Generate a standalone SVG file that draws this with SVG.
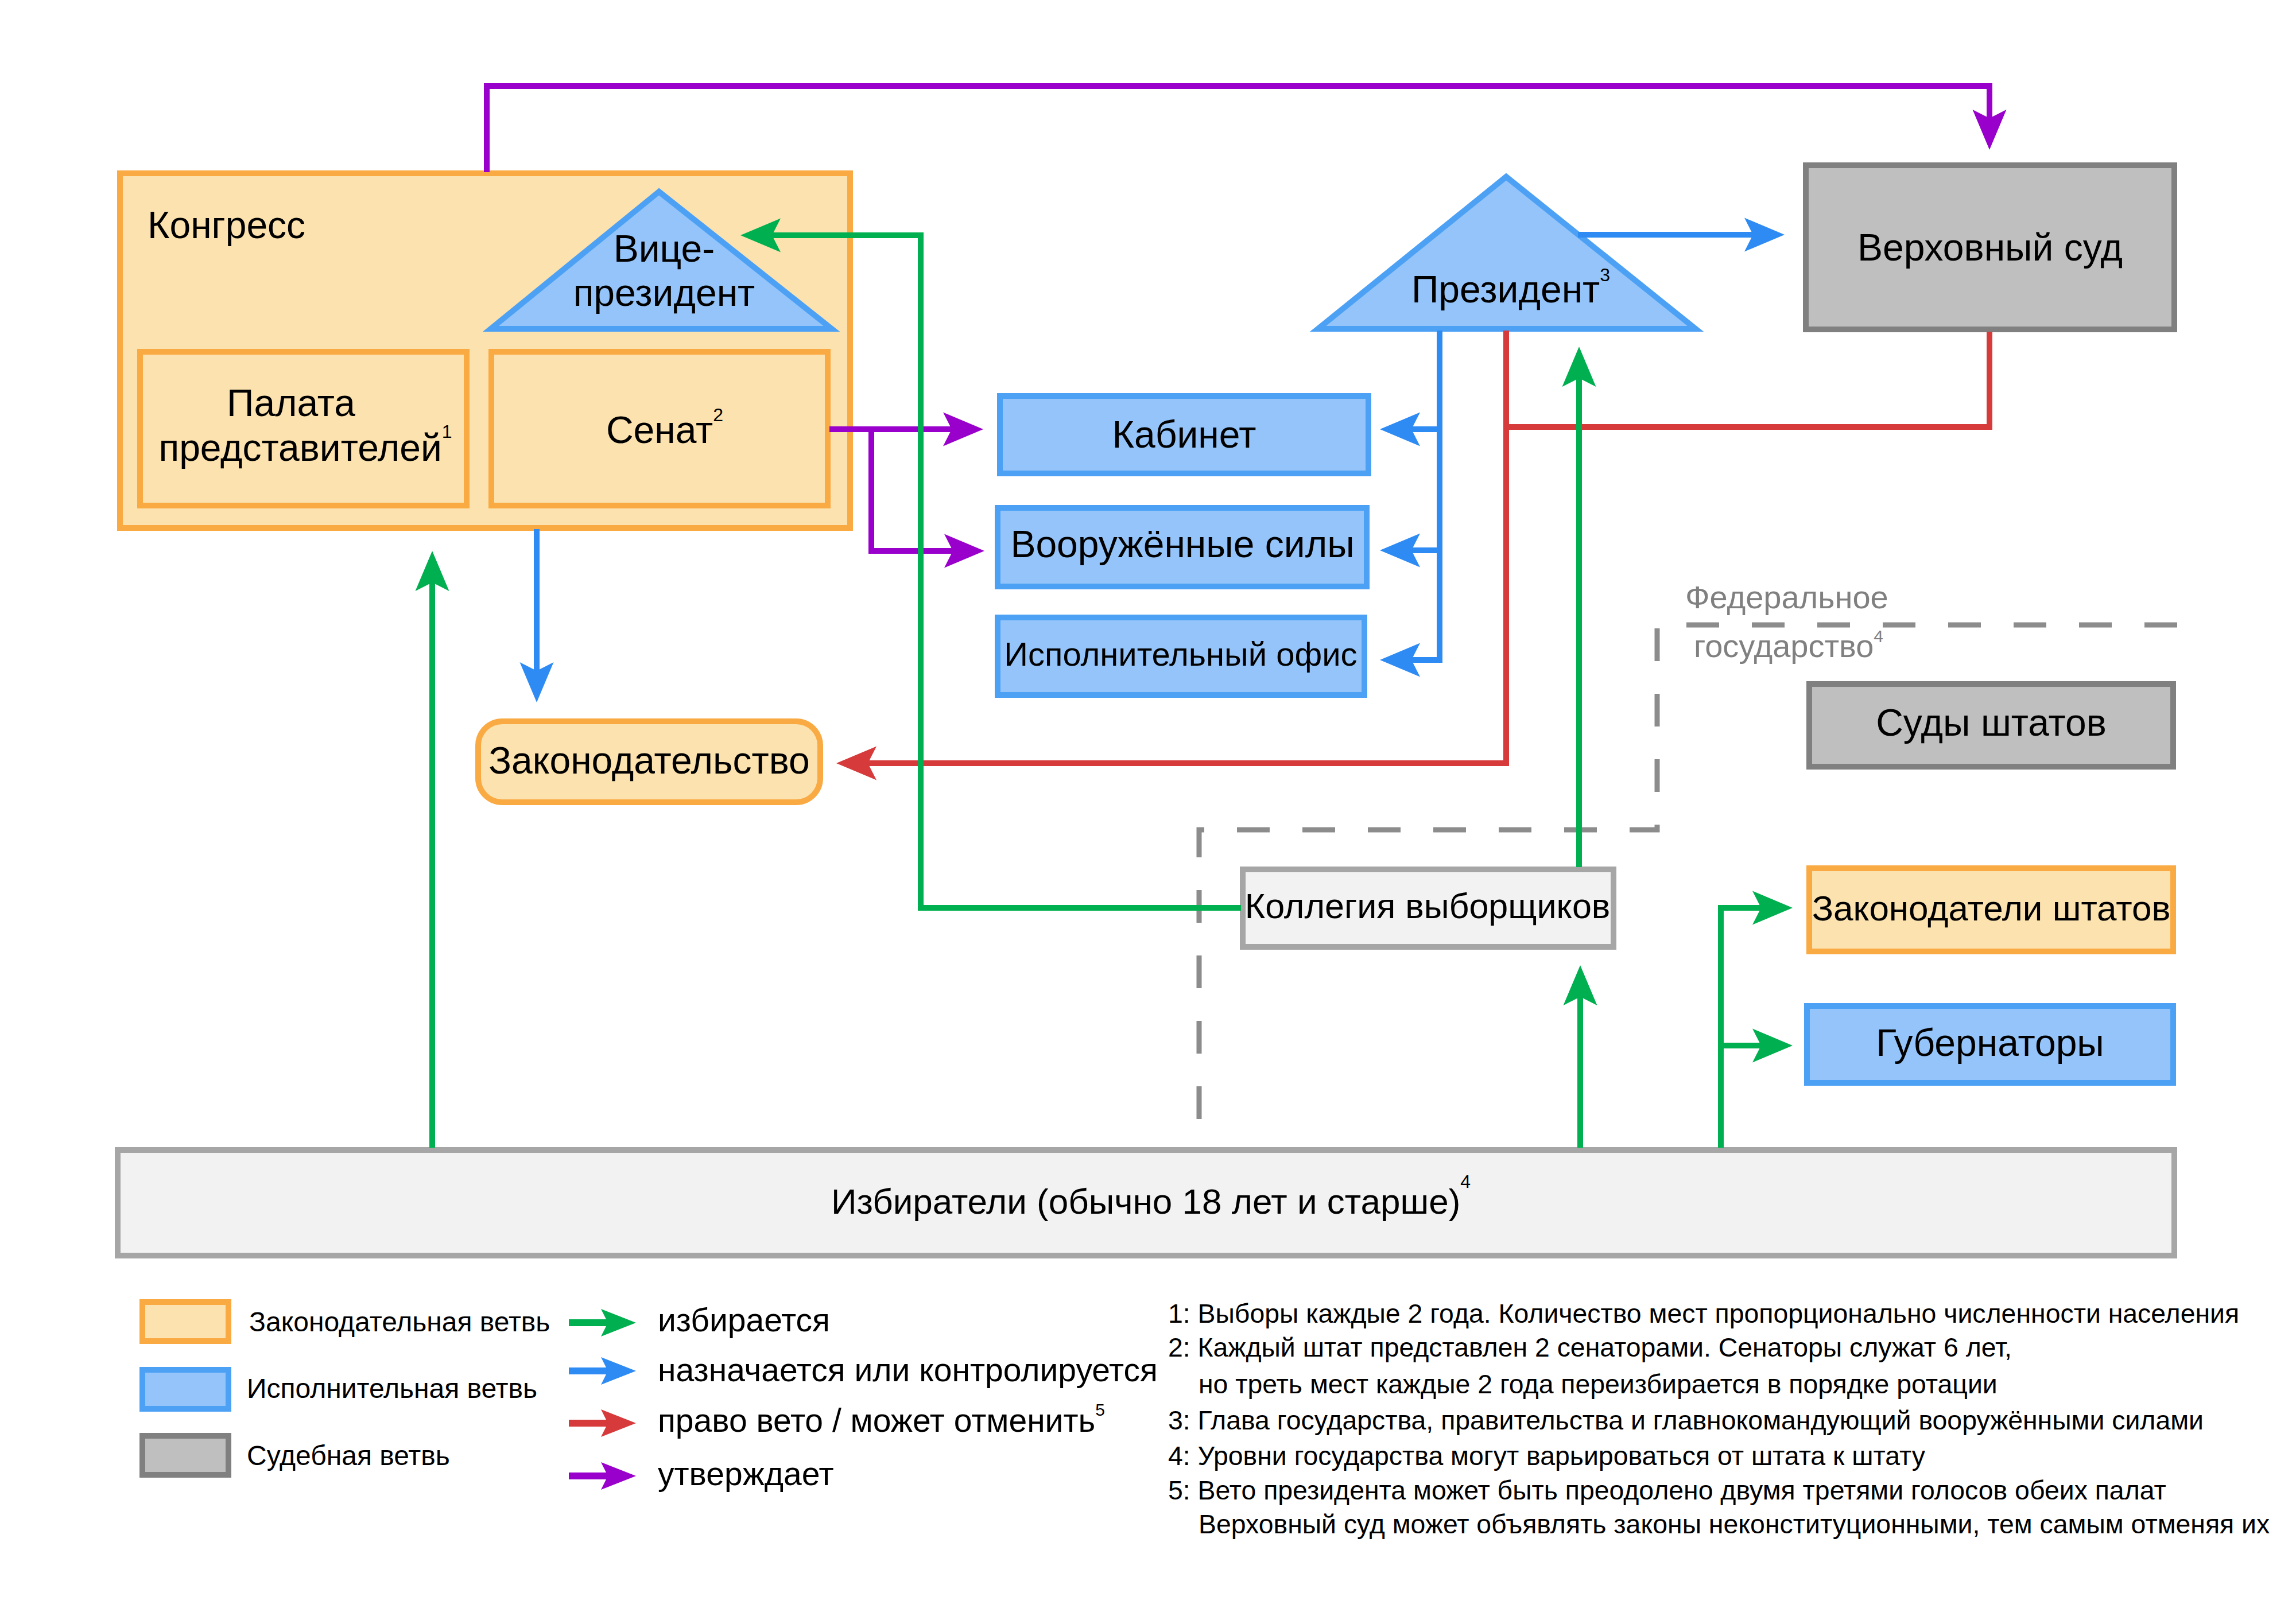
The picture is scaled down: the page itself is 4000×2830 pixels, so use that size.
<svg xmlns="http://www.w3.org/2000/svg" width="4000" height="2830" viewBox="0 0 4000 2830">
<style>
text{font-family:"Liberation Sans",Arial,sans-serif;fill:#000}
.f64{font-size:66px}
.f60{font-size:62px}
.f61{font-size:61px}
.f58{font-size:58px}
.f56{font-size:57px}
.f48{font-size:48px}
.f46{font-size:46.4px}
.sup{font-size:32px}
.leg{fill:#FCE2AE;stroke:#FAAA43;stroke-width:10}
.exe{fill:#94C4F9;stroke:#4DA1F5;stroke-width:10}
.jud{fill:#BFBFBF;stroke:#808080;stroke-width:10}
.pub{fill:#F2F2F2;stroke:#A6A6A6;stroke-width:10}
.c{fill:none;stroke-width:10}
.g{stroke:#00B050}.b{stroke:#2D8BF3}.r{stroke:#D63A3A}.p{stroke:#9900CC}
.lg{fill:none;stroke-width:12}
.fed{fill:none;stroke:#8C8C8C;stroke-width:9;stroke-dasharray:57 57}
.gray{fill:#808080;font-size:56px}
</style>
<defs>
<marker id="mg" viewBox="-16 -30 72 60" refX="0" refY="0" markerWidth="72" markerHeight="60" markerUnits="userSpaceOnUse" orient="auto"><path d="M55,0 L-15,-29.5 L0,0 L-15,29.5 Z" fill="#00B050"/></marker>
<marker id="mb" viewBox="-16 -30 72 60" refX="0" refY="0" markerWidth="72" markerHeight="60" markerUnits="userSpaceOnUse" orient="auto"><path d="M55,0 L-15,-29.5 L0,0 L-15,29.5 Z" fill="#2D8BF3"/></marker>
<marker id="mr" viewBox="-16 -30 72 60" refX="0" refY="0" markerWidth="72" markerHeight="60" markerUnits="userSpaceOnUse" orient="auto"><path d="M55,0 L-15,-29.5 L0,0 L-15,29.5 Z" fill="#D63A3A"/></marker>
<marker id="mp" viewBox="-16 -30 72 60" refX="0" refY="0" markerWidth="72" markerHeight="60" markerUnits="userSpaceOnUse" orient="auto"><path d="M55,0 L-15,-29.5 L0,0 L-15,29.5 Z" fill="#9900CC"/></marker>
<marker id="lg" viewBox="-13 -25 64 50" refX="0" refY="0" markerWidth="64" markerHeight="50" markerUnits="userSpaceOnUse" orient="auto"><path d="M49,0 L-12,-24 L0,0 L-12,24 Z" fill="#00B050"/></marker>
<marker id="lb" viewBox="-13 -25 64 50" refX="0" refY="0" markerWidth="64" markerHeight="50" markerUnits="userSpaceOnUse" orient="auto"><path d="M49,0 L-12,-24 L0,0 L-12,24 Z" fill="#2D8BF3"/></marker>
<marker id="lr" viewBox="-13 -25 64 50" refX="0" refY="0" markerWidth="64" markerHeight="50" markerUnits="userSpaceOnUse" orient="auto"><path d="M49,0 L-12,-24 L0,0 L-12,24 Z" fill="#D63A3A"/></marker>
<marker id="lp" viewBox="-13 -25 64 50" refX="0" refY="0" markerWidth="64" markerHeight="50" markerUnits="userSpaceOnUse" orient="auto"><path d="M49,0 L-12,-24 L0,0 L-12,24 Z" fill="#9900CC"/></marker>
</defs>
<rect width="4000" height="2830" fill="#FFFFFF"/>

<g id="federal-region">
<path class="fed" d="M3793,1089 H2887 V1446 H2089 V1999"/>
<text class="gray" x="2936" y="1060">Федеральное</text>
<text class="gray" x="2951" y="1145">государство<tspan style="font-size:30px" dy="-26">4</tspan></text>
</g>

<g id="congress">
<rect class="leg" x="209" y="302" width="1272" height="618"/>
<text class="f64" x="257" y="415">Конгресс</text>
</g>
<g id="house">
<rect class="leg" x="244" y="613" width="569" height="268"/>
<text class="f64" x="507" y="725" text-anchor="middle">Палата</text>
<text class="f64" x="532" y="803" text-anchor="middle">представителей<tspan class="sup" dy="-40">1</tspan></text>
</g>
<g id="senate">
<rect class="leg" x="856" y="613" width="586" height="268"/>
<text class="f64" x="1158" y="772" text-anchor="middle">Сенат<tspan class="sup" dy="-38">2</tspan></text>
</g>
<g id="vice-president">
<polygon class="exe" points="1148,334 855,573 1449,573"/>
<text class="f64" x="1157" y="456" text-anchor="middle">Вице-</text>
<text class="f64" x="1157" y="533" text-anchor="middle">президент</text>
</g>
<g id="president">
<polygon class="exe" points="2624,308 2296,573 2954,573"/>
<text class="f64" x="2632" y="527" text-anchor="middle">Президент<tspan class="sup" dy="-37">3</tspan></text>
</g>
<g id="supreme-court">
<rect class="jud" x="3146" y="288" width="642" height="286"/>
<text class="f64" x="3467" y="454" text-anchor="middle">Верховный суд</text>
</g>
<g id="cabinet">
<rect class="exe" x="1742" y="690" width="642" height="135"/>
<text class="f64" x="2063" y="780" text-anchor="middle">Кабинет</text>
</g>
<g id="armed-forces">
<rect class="exe" x="1738" y="885" width="643" height="137"/>
<text class="f64" x="2060" y="971" text-anchor="middle">Вооружённые силы</text>
</g>
<g id="executive-office">
<rect class="exe" x="1738" y="1076" width="639" height="135"/>
<text class="f58" x="2057" y="1160" text-anchor="middle">Исполнительный офис</text>
</g>
<g id="legislation">
<rect class="leg" x="833" y="1257" width="596" height="141" rx="42" ry="42"/>
<text class="f64" x="1131" y="1348" text-anchor="middle">Законодательство</text>
</g>
<g id="state-courts">
<rect class="jud" x="3152" y="1192" width="634" height="144"/>
<text class="f64" x="3469" y="1282" text-anchor="middle">Суды штатов</text>
</g>
<g id="electoral-college">
<rect class="pub" x="2165" y="1515" width="646" height="135"/>
<text class="f61" x="2487" y="1600" text-anchor="middle">Коллегия выборщиков</text>
</g>
<g id="state-legislators">
<rect class="leg" x="3152" y="1513" width="634" height="145"/>
<text class="f60" x="3469" y="1604" text-anchor="middle">Законодатели штатов</text>
</g>
<g id="governors">
<rect class="exe" x="3148" y="1753" width="638" height="134"/>
<text class="f64" x="3467" y="1840" text-anchor="middle">Губернаторы</text>
</g>
<g id="electorate">
<rect class="pub" x="205" y="2004" width="3583" height="184"/>
<text class="f60" x="2005" y="2115" text-anchor="middle">Избиратели (обычно 18 лет и старше)<tspan class="sup" dy="-45">4</tspan></text>
</g>

<g id="connectors">
<path class="c p" d="M848,300 V150 H3466 V206" marker-end="url(#mp)"/>
<path class="c p" d="M1445,748 H1658" marker-end="url(#mp)"/>
<path class="c p" d="M1518,748 V960 H1660" marker-end="url(#mp)"/>
<path class="c b" d="M935,922 V1169" marker-end="url(#mb)"/>
<path class="c b" d="M2749,409 H3054" marker-end="url(#mb)"/>
<path class="c b" d="M2508,576 V748 H2459" marker-end="url(#mb)"/>
<path class="c b" d="M2508,748 V959 H2459" marker-end="url(#mb)"/>
<path class="c b" d="M2508,959 V1150 H2459" marker-end="url(#mb)"/>
<path class="c r" d="M3466,578 V744 H2624"/>
<path class="c r" d="M2624,576 V1330 H1512" marker-end="url(#mr)"/>
<path class="c g" d="M753,2000 V1015" marker-end="url(#mg)"/>
<path class="c g" d="M2162,1582 H1604 V410 H1345" marker-end="url(#mg)"/>
<path class="c g" d="M2751,1511 V659" marker-end="url(#mg)"/>
<path class="c g" d="M2753,2000 V1737" marker-end="url(#mg)"/>
<path class="c g" d="M2998,2000 V1582 H3068" marker-end="url(#mg)"/>
<path class="c g" d="M2998,1822 H3068" marker-end="url(#mg)"/>
</g>

<g id="legend">
<rect class="leg" x="248" y="2269" width="150" height="68"/>
<rect class="exe" x="248" y="2387" width="150" height="68"/>
<rect class="jud" x="248" y="2502" width="150" height="68"/>
<text class="f48" x="434" y="2320">Законодательная ветвь</text>
<text class="f48" x="430" y="2436">Исполнительная ветвь</text>
<text class="f48" x="430" y="2553">Судебная ветвь</text>
<path class="lg g" d="M991,2305 H1059" marker-end="url(#lg)"/>
<path class="lg b" d="M991,2389 H1059" marker-end="url(#lb)"/>
<path class="lg r" d="M991,2480 H1059" marker-end="url(#lr)"/>
<path class="lg p" d="M991,2572 H1059" marker-end="url(#lp)"/>
<text class="f56" x="1146" y="2320">избирается</text>
<text class="f56" x="1146" y="2407">назначается или контролируется</text>
<text class="f56" x="1146" y="2495">право вето / может отменить<tspan style="font-size:30px" dy="-28">5</tspan></text>
<text class="f56" x="1146" y="2588">утверждает</text>
</g>

<g id="footnotes">
<text class="f46" x="2035" y="2305">1: Выборы каждые 2 года. Количество мест пропорционально численности населения</text>
<text class="f46" x="2035" y="2364">2: Каждый штат представлен 2 сенаторами. Сенаторы служат 6 лет,</text>
<text class="f46" x="2088" y="2428">но треть мест каждые 2 года переизбирается в порядке ротации</text>
<text class="f46" x="2035" y="2491">3: Глава государства, правительства и главнокомандующий вооружёнными силами</text>
<text class="f46" x="2035" y="2553">4: Уровни государства могут варьироваться от штата к штату</text>
<text class="f46" x="2035" y="2613">5: Вето президента может быть преодолено двумя третями голосов обеих палат</text>
<text class="f46" x="2088" y="2672">Верховный суд может объявлять законы неконституционными, тем самым отменяя их</text>
</g>
</svg>
